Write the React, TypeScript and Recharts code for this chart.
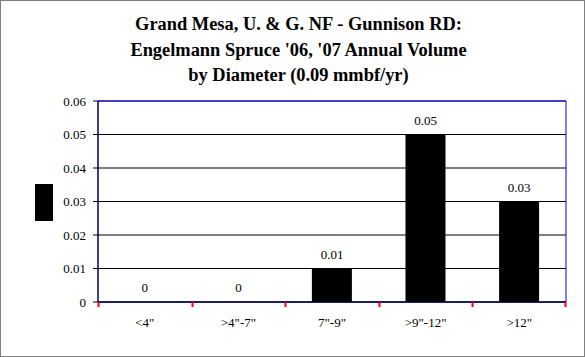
import { ComposedChart, Bar, Line, XAxis, YAxis, CartesianGrid, LabelList, ReferenceArea, usePlotArea } from 'recharts'

const DIAMETERS = ['<4"', '>4"-7"', '7"-9"', '>9"-12"', '>12"']
const VOLUMES = [0, 0, 0.01, 0.05, 0.03]
const Y_TICKS = [0, 0.01, 0.02, 0.03, 0.04, 0.05, 0.06]
const TITLE = [
  'Grand Mesa, U. & G. NF - Gunnison RD:',
  "Engelmann Spruce '06, '07 Annual Volume",
  'by Diameter (0.09 mmbf/yr)',
]

const FONT = '"Liberation Serif", "Times New Roman", serif'
const TICK_SIZE = 5

const chartData = DIAMETERS.map((name, i) => ({ name, volume: VOLUMES[i] }))

const fmt = (v: number) => (v === 0 ? '0' : String(Number(v.toFixed(2))))

// category label plus a tick mark at each band edge (Excel style)
const EdgeTick = (props: any) => {
  const { x, y, payload, index, visibleTicksCount } = props
  const plot = usePlotArea()
  const axisY = plot ? plot.y + plot.height : y
  const half = payload.offset ?? 0
  const lx = Math.round(x - half) + 0.5
  const rx = Math.round(x + half) - 0.5
  return (
    <g>
      <line x1={lx} y1={axisY} x2={lx} y2={axisY + TICK_SIZE} stroke="red" strokeWidth={2} />
      {index === visibleTicksCount - 1 && (
        <line x1={rx} y1={axisY} x2={rx} y2={axisY + TICK_SIZE} stroke="red" strokeWidth={2} />
      )}
      <text x={x} y={axisY + 16} dy="0.71em" textAnchor="middle" fontSize={13} fill="#000" fontFamily={FONT}>
        {payload.value}
      </text>
    </g>
  )
}

export default function App() {
  return (
    <div style={{ position: 'relative', width: 585, height: 357, background: '#fff', fontFamily: FONT }}>
      <style>{'body{margin:0}'}</style>
      <ComposedChart
        width={585}
        height={357}
        data={chartData}
        margin={{ top: 101, right: 19, bottom: 0, left: 0 }}
        barCategoryGap="28.5%"
      >
        <CartesianGrid stroke="#000" vertical={false} />
        <ReferenceArea
          x1={DIAMETERS[0]}
          x2={DIAMETERS[DIAMETERS.length - 1]}
          y1={0}
          y2={0.06}
          fill="none"
          fillOpacity={0}
          stroke="blue"
          strokeOpacity={1}
          ifOverflow="visible"
        />
        <XAxis dataKey="name" stroke="#000" tickLine={false} height={55} tick={<EdgeTick />} />
        <YAxis
          domain={[0, 0.06]}
          ticks={Y_TICKS}
          tickFormatter={fmt}
          width={98}
          stroke="#000"
          tickSize={5}
          tickMargin={7}
          tick={{ fontSize: 13, fill: '#000', fontFamily: FONT }}
          label={{
            content: () => <rect x={35} y={184} width={18} height={37} fill="#000" />,
          }}
        />
        <Bar dataKey="volume" fill="#000" isAnimationActive={false} />
        <Line dataKey="volume" stroke="none" dot={false} activeDot={false} isAnimationActive={false}>
          <LabelList
            dataKey="volume"
            position="top"
            offset={10}
            formatter={(v: any) => fmt(Number(v))}
            fill="#000"
            fontSize={13}
            fontFamily={FONT}
          />
        </Line>
      </ComposedChart>
      <div
        style={{
          position: 'absolute',
          top: 12,
          left: 0,
          width: 597,
          textAlign: 'center',
          fontWeight: 'bold',
          fontSize: 18.4,
          lineHeight: '25.5px',
          color: '#000',
        }}
      >
        {TITLE.map((t) => (
          <div key={t}>{t}</div>
        ))}
      </div>
      <div
        style={{
          position: 'absolute',
          inset: 0,
          border: '1px solid #808080',
          pointerEvents: 'none',
        }}
      />
    </div>
  )
}
